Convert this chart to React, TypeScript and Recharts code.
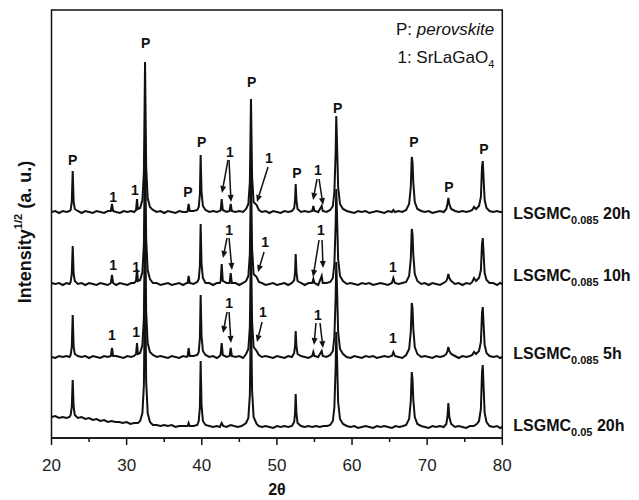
import React from 'react';
import { LineChart, Line, XAxis, YAxis, ReferenceArea, ReferenceDot, ReferenceLine } from 'recharts';

const FONT = '"Liberation Sans", Arial, Helvetica, sans-serif';
const INK = '#111';

// x-axis ticks (2θ)
const xTicks = [20, 25, 30, 35, 40, 45, 50, 55, 60, 65, 70, 75, 80];

// Pattern: LSGMC0.085 20h  [2θ, intensity above its own baseline]
const pattern085_20h: [number, number][] = [
  [20.0, 0], [20.5, 1], [21.0, -1], [21.5, 1], [22.0, 0], [22.4, 1],
  [22.55, 2], [22.7, 10], [22.82, 41], [22.95, 10], [23.1, 3],
  [23.5, 1], [24.0, -1], [24.5, 1], [25.0, 0], [25.5, -1], [26.0, 1], [26.5, 0], [27.0, -1], [27.5, 1],
  [27.9, 1], [28.05, 8], [28.2, 1],
  [28.6, 0], [29.1, -1], [29.6, 1], [30.1, 0], [30.6, 1], [31.0, 0],
  [31.25, 2], [31.38, 13], [31.5, 3],
  [31.8, 4], [32.1, 12], [32.3, 40], [32.45, 150], [32.6, 45], [32.8, 14], [33.1, 5], [33.5, 2],
  [34.0, 0], [34.5, 1], [35.0, -1], [35.5, 1], [36.0, 0], [36.5, -1], [37.0, 1], [37.5, 0], [38.0, 0],
  [38.12, 1], [38.25, 8], [38.4, 1],
  [38.9, 1], [39.4, 2],
  [39.6, 5], [39.75, 18], [39.85, 57], [39.97, 20], [40.15, 6], [40.5, 2],
  [41.0, 0], [41.5, 1], [42.0, 0], [42.4, 1],
  [42.52, 2], [42.65, 13], [42.8, 2],
  [43.3, 0], [43.7, 1], [43.85, 8], [44.0, 1],
  [44.5, 0], [45.0, 1], [45.5, 0], [45.9, 3],
  [46.2, 8], [46.4, 30], [46.55, 113], [46.7, 35], [46.9, 10],
  [47.3, 7], [47.6, 2], [48.0, 0], [48.5, 1], [49.0, -1], [49.5, 1], [50.0, 0], [50.5, -1], [51.0, 1], [51.5, 0], [52.0, 1],
  [52.3, 4], [52.42, 12], [52.5, 28], [52.6, 12], [52.75, 3],
  [53.2, 0], [53.7, 1], [54.2, 0], [54.7, 1], [54.85, 6], [55.0, 1], [55.5, 0], [55.96, 6], [56.1, 1], [56.6, 0], [57.1, 2], [57.45, 6],
  [57.65, 20], [57.82, 60], [57.9, 96], [58.0, 70], [58.15, 25], [58.4, 8], [58.8, 3],
  [59.3, 1], [59.8, 0], [60.3, -1], [60.8, 1], [61.3, 0], [61.8, 1], [62.3, -1], [62.8, 0], [63.3, 1], [63.8, 0], [64.3, -1], [64.8, 1], [65.3, 0], [65.5, 2], [65.7, 0], [66.2, 1], [66.7, 0], [67.2, 2], [67.6, 8],
  [67.82, 25], [67.95, 55], [68.05, 50], [68.15, 30], [68.35, 10], [68.7, 3],
  [69.2, 1], [69.7, 0], [70.2, 1], [70.7, -1], [71.2, 0], [71.7, 1], [72.2, 0], [72.55, 3],
  [72.7, 8], [72.82, 14], [72.95, 8], [73.2, 3],
  [73.7, 1], [74.2, 0], [74.7, 1], [75.2, 0], [75.7, 1], [76.0, 2], [76.24, 5], [76.5, 3], [76.9, 6],
  [77.15, 15], [77.3, 45], [77.4, 51], [77.5, 35], [77.65, 12], [77.9, 4], [78.3, 1],
  [78.8, 0], [79.3, 1], [79.7, 0], [80.0, 0],
];

// Pattern: LSGMC0.085 10h
const pattern085_10h: [number, number][] = [
  [20.0, 1], [20.5, 0], [21.0, 1], [21.5, -1], [22.0, 1], [22.4, 0],
  [22.55, 2], [22.7, 10], [22.82, 38], [22.95, 10], [23.1, 3],
  [23.5, 0], [24.0, 1], [24.5, -1], [25.0, 1], [25.5, 0], [26.0, -1], [26.5, 1], [27.0, 0], [27.5, -1],
  [27.9, 1], [28.05, 9], [28.2, 1],
  [28.6, -1], [29.1, 1], [29.6, 0], [30.1, -1], [30.6, 1], [31.0, 1],
  [31.25, 3], [31.38, 15], [31.5, 3],
  [31.8, 4], [32.1, 12], [32.3, 40], [32.45, 150], [32.6, 45], [32.8, 14], [33.1, 5], [33.5, 1],
  [34.0, 1], [34.5, -1], [35.0, 0], [35.5, 1], [36.0, -1], [36.5, 0], [37.0, 1], [37.5, -1], [38.0, 1],
  [38.12, 1], [38.25, 8], [38.4, 1],
  [38.9, 0], [39.4, 2],
  [39.6, 5], [39.75, 18], [39.85, 60], [39.97, 20], [40.15, 6], [40.5, 1],
  [41.0, 1], [41.5, -1], [42.0, 1], [42.4, 1],
  [42.52, 3], [42.65, 20], [42.8, 3],
  [43.3, 1], [43.7, 1], [43.85, 11], [44.0, 1],
  [44.5, 1], [45.0, -1], [45.5, 1], [45.9, 3],
  [46.2, 8], [46.4, 30], [46.55, 113], [46.7, 35], [46.9, 10],
  [47.3, 7], [47.6, 2], [48.0, 1], [48.5, -1], [49.0, 0], [49.5, 1], [50.0, -1], [50.5, 0], [51.0, 1], [51.5, -1], [52.0, 1],
  [52.3, 4], [52.42, 12], [52.5, 30], [52.6, 12], [52.75, 3],
  [53.2, 1], [53.7, -1], [54.2, 1], [54.7, 1], [54.85, 5], [55.0, 1], [55.5, -1], [55.96, 8], [56.1, 1], [56.6, 1], [57.1, 2], [57.45, 6],
  [57.65, 20], [57.82, 60], [57.9, 95], [58.0, 70], [58.15, 25], [58.4, 8], [58.8, 3],
  [59.3, 0], [59.8, 1], [60.3, 0], [60.8, -1], [61.3, 1], [61.8, 0], [62.3, 1], [62.8, -1], [63.3, 0], [63.8, 1], [64.3, 0], [64.8, -1], [65.3, 1], [65.5, 6], [65.7, 1], [66.2, 0], [66.7, 1], [67.2, 2], [67.6, 8],
  [67.82, 25], [67.95, 55], [68.05, 50], [68.15, 30], [68.35, 10], [68.7, 3],
  [69.2, 0], [69.7, 1], [70.2, -1], [70.7, 1], [71.2, 0], [71.7, -1], [72.2, 1], [72.55, 3],
  [72.7, 6], [72.82, 10], [72.95, 6], [73.2, 3],
  [73.7, 0], [74.2, 1], [74.7, -1], [75.2, 1], [75.7, 0], [76.0, 2], [76.24, 6], [76.5, 3], [76.9, 6],
  [77.15, 14], [77.3, 40], [77.4, 46], [77.5, 32], [77.65, 11], [77.9, 4], [78.3, 1],
  [78.8, 1], [79.3, -1], [79.7, 1], [80.0, 0],
];

// Pattern: LSGMC0.085 5h
const pattern085_5h: [number, number][] = [
  [20.0, 0], [20.5, -1], [21.0, 1], [21.5, 0], [22.0, 1], [22.4, 0],
  [22.55, 2], [22.7, 10], [22.82, 42], [22.95, 10], [23.1, 3],
  [23.5, 1], [24.0, 0], [24.5, 1], [25.0, -1], [25.5, 1], [26.0, 0], [26.5, -1], [27.0, 1], [27.5, 0],
  [27.9, 1], [28.05, 9], [28.2, 1],
  [28.6, 1], [29.1, 0], [29.6, -1], [30.1, 1], [30.6, 0], [31.0, 1],
  [31.25, 3], [31.38, 14], [31.5, 3],
  [31.8, 4], [32.1, 12], [32.3, 40], [32.45, 150], [32.6, 45], [32.8, 14], [33.1, 5], [33.5, 2],
  [34.0, 0], [34.5, 1], [35.0, 0], [35.5, -1], [36.0, 1], [36.5, 0], [37.0, -1], [37.5, 1], [38.0, 0],
  [38.12, 1], [38.25, 9], [38.4, 1],
  [38.9, 1], [39.4, 2],
  [39.6, 5], [39.75, 19], [39.85, 62], [39.97, 21], [40.15, 6], [40.5, 2],
  [41.0, 0], [41.5, 1], [42.0, -1], [42.4, 1],
  [42.52, 3], [42.65, 14], [42.8, 2],
  [43.3, 0], [43.7, 1], [43.85, 9], [44.0, 1],
  [44.5, 0], [45.0, 1], [45.5, -1], [45.9, 3],
  [46.2, 8], [46.4, 30], [46.55, 113], [46.7, 35], [46.9, 10],
  [47.3, 6], [47.6, 2], [48.0, 0], [48.5, 1], [49.0, 0], [49.5, -1], [50.0, 1], [50.5, 0], [51.0, -1], [51.5, 1], [52.0, 0],
  [52.3, 4], [52.42, 11], [52.5, 26], [52.6, 11], [52.75, 3],
  [53.2, 1], [53.7, 0], [54.2, -1], [54.7, 1], [54.85, 5], [55.0, 1], [55.5, 0], [55.96, 6], [56.1, 1], [56.6, 0], [57.1, 2], [57.45, 6],
  [57.65, 20], [57.82, 60], [57.9, 95], [58.0, 70], [58.15, 25], [58.4, 8], [58.8, 3],
  [59.3, 0], [59.8, -1], [60.3, 1], [60.8, 0], [61.3, -1], [61.8, 1], [62.3, 0], [62.8, 1], [63.3, -1], [63.8, 0], [64.3, 1], [64.8, 0], [65.3, 1], [65.5, 5], [65.7, 1], [66.2, 0], [66.7, -1], [67.2, 2], [67.6, 8],
  [67.82, 25], [67.95, 54], [68.05, 49], [68.15, 29], [68.35, 10], [68.7, 3],
  [69.2, 0], [69.7, 1], [70.2, 0], [70.7, -1], [71.2, 1], [71.7, 0], [72.2, 1], [72.55, 3],
  [72.7, 6], [72.82, 10], [72.95, 6], [73.2, 3],
  [73.7, 1], [74.2, -1], [74.7, 1], [75.2, 0], [75.7, 1], [76.0, 2], [76.24, 5], [76.5, 3], [76.9, 6],
  [77.15, 15], [77.3, 44], [77.4, 50], [77.5, 34], [77.65, 12], [77.9, 4], [78.3, 1],
  [78.8, 0], [79.3, 1], [79.7, -1], [80.0, 0],
];

// Pattern: LSGMC0.05 20h (includes its slightly sloping background)
const pattern05_20h: [number, number][] = [
  [20.0, 10], [20.5, 11], [21.0, 9], [21.5, 10], [22.0, 9], [22.4, 10],
  [22.55, 12], [22.7, 20], [22.82, 47], [22.95, 20], [23.1, 12],
  [23.5, 9], [24.0, 10], [24.5, 8], [25.0, 9], [25.5, 7], [26.0, 8], [26.5, 6], [27.0, 7], [27.5, 5], [28.0, 6], [28.5, 5], [29.0, 5], [29.5, 4], [30.0, 5], [30.5, 3], [31.0, 4], [31.5, 4],
  [31.8, 6], [32.1, 14], [32.3, 42], [32.45, 153], [32.6, 46], [32.8, 14], [33.1, 5], [33.5, 2],
  [34.0, 2], [34.5, 1], [35.0, 2], [35.5, 1], [36.0, 2], [36.5, 0], [37.0, 1], [37.5, 1], [38.0, 1],
  [38.12, 1], [38.25, 4], [38.4, 1],
  [38.9, 1], [39.4, 2],
  [39.6, 6], [39.75, 20], [39.85, 66], [39.97, 22], [40.15, 6], [40.5, 2],
  [41.0, 1], [41.5, 0], [42.0, 1], [42.4, 0], [42.65, 4], [42.85, 1], [43.3, 0], [43.85, 2], [44.3, 1], [44.8, 0], [45.3, 1], [45.9, 4],
  [46.2, 9], [46.4, 32], [46.55, 114], [46.7, 36], [46.9, 10],
  [47.3, 3], [47.6, 1], [48.0, 0], [48.5, 1], [49.0, 0], [49.5, -1], [50.0, 1], [50.5, 0], [51.0, 1], [51.5, 0], [52.0, 1],
  [52.3, 5], [52.42, 14], [52.5, 33], [52.6, 14], [52.75, 4],
  [53.2, 1], [53.7, 0], [54.2, 1], [54.7, 0], [55.2, 1], [55.7, 0], [56.2, 1], [56.7, 1], [57.1, 2], [57.45, 6],
  [57.65, 20], [57.82, 60], [57.9, 95], [58.0, 70], [58.15, 25], [58.4, 8], [58.8, 3],
  [59.3, 1], [59.8, 0], [60.3, 1], [60.8, -1], [61.3, 0], [61.8, 1], [62.3, 0], [62.8, -1], [63.3, 1], [63.8, 0], [64.3, 1], [64.8, 0], [65.3, -1], [65.8, 1], [66.3, 0], [66.8, 1], [67.2, 2], [67.6, 8],
  [67.82, 26], [67.95, 55], [68.05, 48], [68.15, 28], [68.35, 10], [68.7, 3],
  [69.2, 1], [69.7, 0], [70.2, -1], [70.7, 1], [71.2, 0], [71.7, 1], [72.2, 0], [72.55, 3],
  [72.7, 10], [72.82, 24], [72.95, 10], [73.2, 3],
  [73.7, 0], [74.2, 1], [74.7, 0], [75.2, -1], [75.7, 1], [76.2, 1], [76.6, 3], [76.9, 6],
  [77.15, 18], [77.3, 55], [77.4, 62], [77.5, 42], [77.65, 14], [77.9, 5], [78.3, 1],
  [78.8, 0], [79.3, 1], [79.7, -1], [80.0, 0],
];

// vertical stacking offsets of the patterns (intensity units)
const stackOffsets = [226, 154, 81, 11];
const sampleNames = [
  { main: 'LSGMC', sub: '0.085', tail: ' 20h' },
  { main: 'LSGMC', sub: '0.085', tail: ' 10h' },
  { main: 'LSGMC', sub: '0.085', tail: ' 5h' },
  { main: 'LSGMC', sub: '0.05', tail: ' 20h' },
];
const sampleLabelLevels = [225, 163, 85, 13];
const patterns = [pattern085_20h, pattern085_10h, pattern085_5h, pattern05_20h];

// Phase markers: [2θ, level, text]
const phaseMarks: [number, number, string][] = [
  [22.82, 278, 'P'], [32.55, 395, 'P'], [38.17, 246, 'P'], [40.0, 296, 'P'], [46.65, 356, 'P'],
  [52.65, 265, 'P'], [58.1, 330, 'P'], [68.25, 296, 'P'], [72.9, 251, 'P'], [77.55, 289, 'P'],
  [28.19, 241, '1'], [31.11, 248, '1'], [43.76, 286, '1'], [48.95, 280, '1'], [55.47, 268, '1'],
  [28.19, 173, '1'], [31.25, 171, '1'], [43.63, 208, '1'], [48.42, 196, '1'], [55.87, 208, '1'], [65.45, 171, '1'],
  [28.05, 103, '1'], [31.25, 106, '1'], [43.63, 135, '1'], [48.15, 126, '1'], [55.47, 123, '1'], [65.45, 100, '1'],
];

// Arrows: [2θ from, level from, 2θ to, level to]
const arrows: [number, number, number, number][] = [
  [43.49, 278, 42.69, 245], [43.63, 278, 43.89, 236], [48.82, 271, 47.35, 236], [55.34, 259, 54.81, 238], [55.61, 259, 56.14, 233],
  [43.36, 200, 42.83, 180], [43.63, 200, 44.02, 168], [48.29, 186, 47.49, 166], [55.61, 198, 54.81, 161], [56.01, 198, 56.14, 170],
  [43.36, 126, 42.83, 105], [43.63, 126, 43.89, 95], [48.02, 116, 47.35, 96], [55.2, 115, 54.94, 93], [55.74, 115, 56.14, 90],
];

const legendLines = [
  { head: 'P: ', body: 'perovskite', italic: true, sub: '', level: 409 },
  { head: '1: ', body: 'SrLaGaO', italic: false, sub: '4', level: 381 },
];

const seriesData = patterns.map((p, i) => p.map(([t, y]) => ({ t, v: y + stackOffsets[i] })));

const XTick = (props: any) => {
  const { x, y, payload } = props;
  const v = payload.value;
  const major = v % 10 === 0;
  return (
    <g>
      <line x1={x} x2={x} y1={y} y2={y + (major ? 7 : 4)} stroke={INK} strokeWidth={1.5} />
      {major && (
        <text x={x} y={y + 27} textAnchor="middle" dominantBaseline="central" fontSize={17} fontFamily={FONT} fill="#222">
          {v}
        </text>
      )}
    </g>
  );
};

const ArrowShape = (props: any) => {
  const x1 = Number(props.x1), y1 = Number(props.y1), x2 = Number(props.x2), y2 = Number(props.y2);
  const dx = x2 - x1, dy = y2 - y1;
  const len = Math.hypot(dx, dy) || 1;
  const ux = dx / len, uy = dy / len;
  const hl = 7, hw = 3;
  const bx = x2 - ux * hl, by = y2 - uy * hl;
  return (
    <g>
      <line x1={x1} y1={y1} x2={bx} y2={by} stroke={INK} strokeWidth={1.5} />
      <polygon points={`${x2},${y2} ${bx - uy * hw},${by + ux * hw} ${bx + uy * hw},${by - ux * hw}`} fill={INK} />
    </g>
  );
};

export default function App() {
  return (
    <div style={{ position: 'absolute', left: 0, top: 0, width: 639, height: 500, background: '#fff' }}>
      <LineChart width={639} height={500} margin={{ top: 10, right: 136.7, bottom: 32, left: 51.5 }}>
        <XAxis
          dataKey="t"
          type="number"
          domain={[20, 80]}
          ticks={xTicks}
          interval={0}
          allowDataOverflow
          tick={<XTick />}
          tickLine={false}
          tickSize={0}
          tickMargin={0}
          height={30}
          axisLine={{ stroke: INK, strokeWidth: 1.5 }}
        />
        <YAxis type="number" domain={[0, 428]} hide allowDataOverflow />
        <ReferenceArea x1={20} x2={80} y1={0} y2={428} fill="none" stroke={INK} strokeWidth={1.5} ifOverflow="visible" />
        {seriesData.map((d, i) => (
          <Line
            key={i}
            data={d}
            dataKey="v"
            type="linear"
            stroke={INK}
            strokeWidth={2}
            dot={false}
            activeDot={false}
            isAnimationActive={false}
          />
        ))}
        {phaseMarks.map(([t, v, s], i) => (
          <ReferenceDot
            key={'m' + i}
            x={t}
            y={v}
            r={0}
            ifOverflow="visible"
            shape={(p: any) => (
              <text x={p.cx} y={p.cy} textAnchor="middle" dominantBaseline="central" fontSize={14} fontWeight="bold" fontFamily={FONT} fill={INK}>
                {s}
              </text>
            )}
          />
        ))}
        {arrows.map(([t1, v1, t2, v2], i) => (
          <ReferenceLine
            key={'a' + i}
            segment={[{ x: t1, y: v1 }, { x: t2, y: v2 }]}
            ifOverflow="visible"
            shape={ArrowShape}
          />
        ))}
        {sampleNames.map((n, i) => (
          <ReferenceDot
            key={'n' + i}
            x={80}
            y={sampleLabelLevels[i]}
            r={0}
            ifOverflow="visible"
            shape={(p: any) => (
              <text x={p.cx + 11} y={p.cy + 6} fontSize={16} fontWeight="bold" fontFamily={FONT} fill={INK}>
                <tspan>{n.main}</tspan>
                <tspan fontSize={11} dy={5}>{n.sub}</tspan>
                <tspan dy={-5}>{n.tail}</tspan>
              </text>
            )}
          />
        ))}
        {legendLines.map((l, i) => (
          <ReferenceDot
            key={'l' + i}
            x={80}
            y={l.level}
            r={0}
            ifOverflow="visible"
            shape={(p: any) => (
              <text x={p.cx - 8} y={p.cy + 6} textAnchor="end" fontSize={17} fontFamily={FONT} fill={INK}>
                <tspan>{l.head}</tspan>
                <tspan fontStyle={l.italic ? 'italic' : 'normal'}>{l.body}</tspan>
                {l.sub && <tspan fontSize={11} dy={5}>{l.sub}</tspan>}
              </text>
            )}
          />
        ))}
      </LineChart>
      <svg width={639} height={500} style={{ position: 'absolute', left: 0, top: 0, pointerEvents: 'none' }}>
        <text x={277} y={489} textAnchor="middle" dominantBaseline="central" fontSize={16} fontWeight="bold" fontFamily={FONT} fill={INK}>
          2θ
        </text>
        <text
          transform="translate(25,232) rotate(-90)"
          textAnchor="middle"
          dominantBaseline="central"
          fontSize={18}
          fontWeight="bold"
          fontFamily={FONT}
          fill={INK}
        >
          <tspan>Intensity</tspan>
          <tspan fontSize={11} dy={-7}>1/2</tspan>
          <tspan dy={7}> (a. u.)</tspan>
        </text>
      </svg>
    </div>
  );
}
